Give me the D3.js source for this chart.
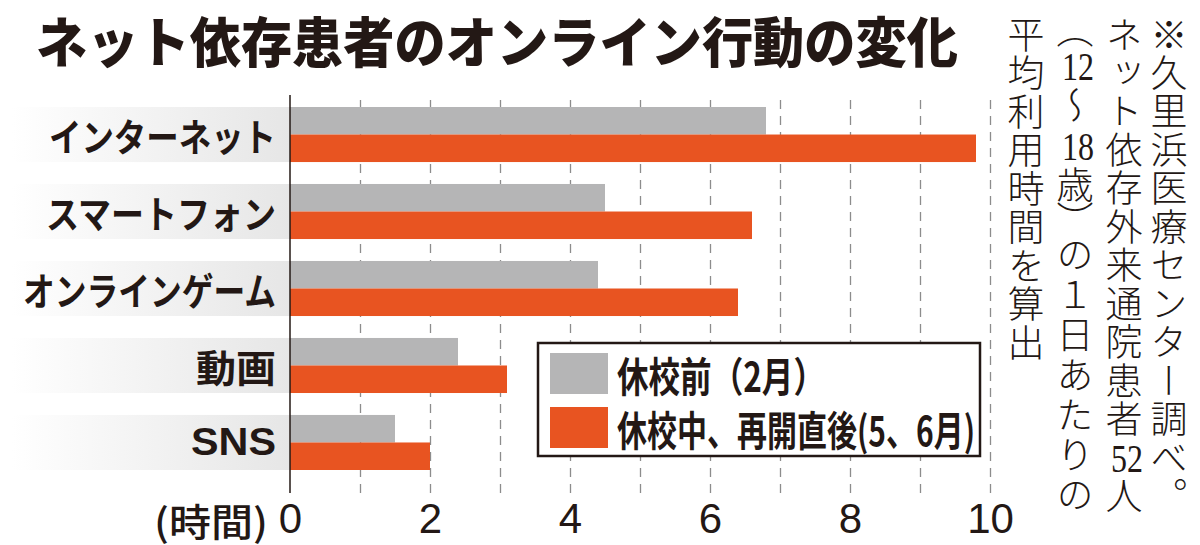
<!DOCTYPE html>
<html>
<head>
<meta charset="utf-8">
<script src="https://cdn.jsdelivr.net/npm/d3@7"></script>
<style>
  body { margin: 0; background: #fff; }
  svg text { font-family: "Noto Sans CJK JP", sans-serif; fill: #231815; }
</style>
</head>
<body>
<svg width="1200" height="545"></svg>
<script>
const categories = ['インターネット', 'スマートフォン', 'オンラインゲーム', '動画', 'SNS'];
const beforeValues = [6.8, 4.5, 4.4, 2.4, 1.5];
const duringValues = [9.8, 6.6, 6.4, 3.1, 2.0];
const seriesNames = ['休校前（2月）', '休校中、再開直後(5、6月)'];
const xTicks = [0, 2, 4, 6, 8, 10];
const titleText = 'ネット依存患者のオンライン行動の変化';
const unitLabel = '(時間)';
const noteColumns = [
    '※久里浜医療センター調べ。',
    'ネット依存外来通院患者52人',
    '（12～18歳）の１日あたりの',
    '平均利用時間を算出'
];

const svg = d3.select('svg');
const colors = { before: '#b5b5b6', during: '#e85421' };

const gridTop = 95;
const gridBottom = 493;

// printed widths of the category labels (layout only)
const labelWidth = { 'インターネット': 227, 'スマートフォン': 230, 'オンラインゲーム': 253, '動画': 80, 'SNS': 85 };

const xScale = d3.scaleLinear().domain([0, 10]).range([290, 990]);
const yScale = d3.scaleBand()
    .domain(categories)
    .range([107, 470])
    .paddingInner(0.285)
    .paddingOuter(0);

const rows = categories.map((c, i) => ({ cat: c, before: beforeValues[i], during: duringValues[i] }));

// gradient behind category labels
const defs = svg.append('defs');
const grad = defs.append('linearGradient').attr('id', 'labelBg');
grad.append('stop').attr('offset', '0%').attr('stop-color', '#ffffff');
grad.append('stop').attr('offset', '100%').attr('stop-color', '#e6e6e6');

svg.append('g').selectAll('rect')
    .data(rows)
    .join('rect')
    .attr('x', 12)
    .attr('width', xScale(0) - 12)
    .attr('y', d => yScale(d.cat))
    .attr('height', yScale.bandwidth())
    .attr('fill', 'url(#labelBg)');

// dashed grid
const gridAxis = d3.axisBottom(xScale)
    .tickValues(d3.range(1, 11))
    .tickSize(-(gridBottom - gridTop))
    .tickFormat('');

const gridG = svg.append('g')
    .attr('transform', `translate(0,${gridBottom})`)
    .call(gridAxis);
gridG.select('.domain').remove();
gridG.selectAll('line')
    .attr('stroke', '#8c8c8c')
    .attr('stroke-width', 1.3)
    .attr('stroke-dasharray', '9,7');

// bars
const half = yScale.bandwidth() / 2;
const barsG = svg.append('g');
barsG.selectAll('.before')
    .data(rows)
    .join('rect')
    .attr('class', 'before')
    .attr('x', xScale(0))
    .attr('y', d => yScale(d.cat))
    .attr('width', d => xScale(d.before) - xScale(0))
    .attr('height', half)
    .attr('fill', colors.before);

barsG.selectAll('.during')
    .data(rows)
    .join('rect')
    .attr('class', 'during')
    .attr('x', xScale(0))
    .attr('y', d => yScale(d.cat) + half)
    .attr('width', d => xScale(d.during) - xScale(0))
    .attr('height', half)
    .attr('fill', colors.during);

// vertical axis line
svg.append('line')
    .attr('x1', xScale(0)).attr('x2', xScale(0))
    .attr('y1', gridTop).attr('y2', gridBottom)
    .attr('stroke', '#231815')
    .attr('stroke-width', 1.5);

// category labels
svg.append('g').selectAll('text')
    .data(rows)
    .join('text')
    .attr('x', 276)
    .attr('y', d => yScale(d.cat) + yScale.bandwidth() / 2)
    .attr('text-anchor', 'end')
    .attr('dominant-baseline', 'central')
    .attr('font-size', 38)
    .attr('font-weight', 700)
    .attr('textLength', d => labelWidth[d.cat])
    .attr('lengthAdjust', 'spacingAndGlyphs')
    .style('font-family', d => /^[A-Z]+$/.test(d.cat) ? '"Liberation Sans", sans-serif' : null)
    .text(d => d.cat);

// x tick labels
const xAxis = d3.axisBottom(xScale).tickValues(xTicks).tickSize(0).tickPadding(0);
const xAxisG = svg.append('g')
    .attr('transform', `translate(0,${gridBottom})`)
    .call(xAxis);
xAxisG.select('.domain').remove();
xAxisG.selectAll('text')
    .attr('dy', null)
    .attr('y', 40)
    .attr('font-size', 42)
    .style('font-family', '"Liberation Sans", Arial, sans-serif')
    .style('fill', '#231815');

// unit label
svg.append('text')
    .attr('x', 154)
    .attr('y', 519)
    .attr('dominant-baseline', 'central')
    .attr('font-size', 38)
    .attr('font-weight', 500)
    .attr('textLength', 114)
    .attr('lengthAdjust', 'spacingAndGlyphs')
    .text(unitLabel);

// title
svg.append('text')
    .attr('x', 36)
    .attr('y', 39)
    .attr('dominant-baseline', 'central')
    .attr('font-size', 54)
    .attr('font-weight', 900)
    .attr('textLength', 922)
    .attr('lengthAdjust', 'spacingAndGlyphs')
    .text(titleText);

// legend
const legend = svg.append('g');
legend.append('rect')
    .attr('x', 538).attr('y', 343)
    .attr('width', 442).attr('height', 113)
    .attr('fill', '#fff')
    .attr('stroke', '#231815')
    .attr('stroke-width', 2.5);

const legendItems = [
    { name: seriesNames[0], color: colors.before, y: 353, len: 208 },
    { name: seriesNames[1], color: colors.during, y: 407, len: 358 }
];
legend.selectAll('.sw')
    .data(legendItems)
    .join('rect')
    .attr('class', 'sw')
    .attr('x', 550)
    .attr('y', d => d.y)
    .attr('width', 58)
    .attr('height', 41)
    .attr('fill', d => d.color);
legend.selectAll('.lt')
    .data(legendItems)
    .join('text')
    .attr('class', 'lt')
    .attr('x', 617)
    .attr('y', d => d.y + 21)
    .attr('dominant-baseline', 'central')
    .attr('font-size', 41)
    .attr('font-weight', 700)
    .attr('textLength', d => d.len)
    .attr('lengthAdjust', 'spacingAndGlyphs')
    .text(d => d.name);

// vertical note (columns right to left, digit pairs set upright side by side)
const noteX = [1172, 1127, 1078, 1029];
const noteTop = 16;
const noteLen = 500;
const noteSize = 37;
const isDigits = t => /^[0-9]+$/.test(t);
const cellWeight = t => ('（）'.includes(t) ? 0.75 : 1);

const noteG = svg.append('g');
noteColumns.forEach((col, ci) => {
    const tokens = col.match(/[0-9]+|./gu);
    const total = d3.sum(tokens, cellWeight);
    const pitch = ci < 3 ? noteLen / total : 38.5;
    let y = noteTop;
    tokens.forEach(t => {
        const adv = cellWeight(t) * pitch;
        if (isDigits(t)) {
            noteG.append('text')
                .attr('x', noteX[ci] - 16)
                .attr('y', y + adv / 2)
                .attr('dominant-baseline', 'central')
                .attr('font-size', 40)
                .attr('textLength', 32)
                .attr('lengthAdjust', 'spacingAndGlyphs')
                .style('font-family', '"Liberation Serif", serif')
                .text(t);
        } else {
            noteG.append('text')
                .attr('x', noteX[ci] - 3)
                .attr('y', y + (adv - pitch) / 2)
                .attr('font-size', noteSize)
                .attr('font-weight', 300)
                .style('writing-mode', 'vertical-rl')
                .text(t);
        }
        y += adv;
    });
});
</script>
</body>
</html>
